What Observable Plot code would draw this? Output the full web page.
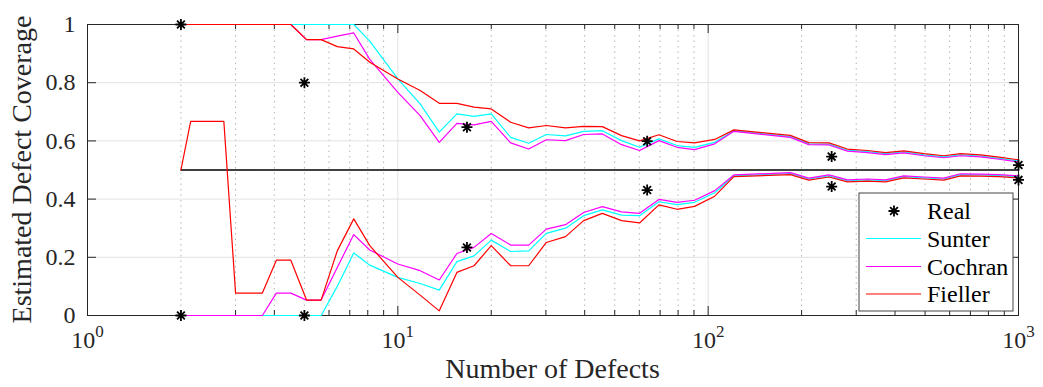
<!DOCTYPE html>
<html><head><meta charset="utf-8">
<script src="https://cdn.jsdelivr.net/npm/d3@7"></script>
<script src="https://cdn.jsdelivr.net/npm/@observablehq/plot@0.6"></script>
<style>body{margin:0;background:#fff}#chart{width:1043px;height:387px}
#chart svg text{font-family:'Liberation Serif','Times New Roman',serif !important}</style>
</head><body><div id="chart"></div>
<script>
// ---- data ----
const nDefects = [2, 2.15, 2.75, 3.0, 3.66, 4.06, 4.52, 5.08, 5.66, 6.38, 7.21, 8.12, 10, 11.8, 13.6, 15.5, 17.6, 20, 23.1, 26.4, 30.1, 34.7, 39.7, 45.6, 52.6, 60.1, 69.4, 79.4, 90.4, 105, 121, 184, 211, 245, 281, 326, 373, 427, 496, 575, 650, 755, 865, 1000];

const sunterUpper = [1,1,1,1,1,1,1,1,1,1,1, 0.943, 0.813, 0.727, 0.630, 0.693, 0.684, 0.693, 0.612, 0.592, 0.622, 0.617, 0.633, 0.635, 0.601, 0.578, 0.607, 0.584, 0.578, 0.595, 0.635, 0.615, 0.590, 0.589, 0.568, 0.563, 0.556, 0.562, 0.552, 0.545, 0.552, 0.548, 0.540, 0.531];
const cochranUpper = [1,1,1,1,1,1,1, 0.948, 0.948, 0.960, 0.971, 0.880, 0.767, 0.687, 0.595, 0.660, 0.655, 0.667, 0.593, 0.572, 0.604, 0.601, 0.622, 0.624, 0.587, 0.567, 0.601, 0.578, 0.570, 0.590, 0.633, 0.612, 0.587, 0.586, 0.565, 0.560, 0.553, 0.559, 0.549, 0.542, 0.549, 0.545, 0.537, 0.528];
const fiellerUpper = [1,1,1,1,1,1,1, 0.948, 0.948, 0.924, 0.916, 0.870, 0.813, 0.773, 0.729, 0.729, 0.716, 0.710, 0.664, 0.645, 0.653, 0.645, 0.650, 0.649, 0.618, 0.600, 0.621, 0.598, 0.593, 0.605, 0.638, 0.619, 0.594, 0.593, 0.572, 0.567, 0.560, 0.566, 0.556, 0.549, 0.556, 0.552, 0.544, 0.535];

const sunterLower = [0,0,0,0,0,0,0,0,0, 0.100, 0.215, 0.173, 0.131, 0.110, 0.087, 0.185, 0.205, 0.259, 0.220, 0.222, 0.282, 0.300, 0.343, 0.363, 0.345, 0.343, 0.391, 0.381, 0.389, 0.422, 0.480, 0.488, 0.469, 0.480, 0.463, 0.466, 0.463, 0.477, 0.473, 0.469, 0.484, 0.483, 0.481, 0.477];
const cochranLower = [0,0,0,0,0, 0.077, 0.077, 0.053, 0.053, 0.165, 0.278, 0.225, 0.177, 0.154, 0.122, 0.213, 0.234, 0.282, 0.242, 0.242, 0.297, 0.312, 0.354, 0.374, 0.356, 0.351, 0.399, 0.389, 0.396, 0.429, 0.483, 0.491, 0.472, 0.483, 0.466, 0.469, 0.466, 0.480, 0.476, 0.472, 0.487, 0.486, 0.484, 0.480];
const fiellerLower = [0.5, 0.667, 0.667, 0.077, 0.077, 0.190, 0.190, 0.053, 0.053, 0.222, 0.332, 0.240, 0.131, 0.070, 0.016, 0.148, 0.171, 0.240, 0.171, 0.171, 0.251, 0.271, 0.326, 0.351, 0.326, 0.318, 0.380, 0.365, 0.375, 0.410, 0.477, 0.484, 0.465, 0.476, 0.459, 0.462, 0.459, 0.473, 0.469, 0.465, 0.480, 0.479, 0.477, 0.473];

const realN = [2, 2, 5, 5, 16.7, 16.7, 63.6, 63.6, 250, 250, 1000, 1000];
const realCoverage = [1, 0, 0.8, 0, 0.647, 0.234, 0.599, 0.431, 0.546, 0.443, 0.517, 0.466];

const refN = [2, 1000];
const refCoverage = [0.5, 0.5];

const xMajorTicks = [1, 10, 100, 1000];
const xMinorTicks = [2,3,4,5,6,7,8,9,20,30,40,50,60,70,80,90,200,300,400,500,600,700,800,900];
const yTicks = [0, 0.2, 0.4, 0.6, 0.8, 1];
const yLabels = ["0", "0.2", "0.4", "0.6", "0.8", "1"];

const seriesNames = ["Real", "Sunter", "Cochran", "Fieller"];
const seriesColors = ["#000000", "#00ffff", "#ff00ff", "#ff0000"];
const xLabel = "Number of Defects";
const yLabel = "Estimated Defect Coverage";

// ---- layout ----
const FONT = "'Liberation Serif','Times New Roman',serif";
const W = 1043, H = 387, mL = 87, mR = 25, mT = 24, mB = 72;
const fW = W - mL - mR, fH = H - mT - mB;
const ink = "#262626";

const rows = ys => nDefects.map((n, i) => ({n, v: ys[i]}));
const real = realN.map((n, i) => ({n, v: realCoverage[i]}));
const ref = refN.map((n, i) => ({n, v: refCoverage[i]}));

const asterisk = {
  draw(ctx, size) {
    const r = Math.sqrt(size / Math.PI);
    for (let k = 0; k < 4; k++) {
      const a = k * Math.PI / 4, c = Math.cos(a) * r, s = Math.sin(a) * r;
      ctx.moveTo(c, s); ctx.lineTo(-c, -s);
    }
  }
};

const lineOpts = (color) => ({x: "n", y: "v", stroke: color, strokeWidth: 1.2});

const chart = Plot.plot({
  width: W, height: H,
  marginLeft: mL, marginRight: mR, marginTop: mT, marginBottom: mB,
  style: {fontFamily: FONT, fontSize: "24px", background: "#fff", color: ink, overflow: "visible"},
  x: {type: "log", domain: [1, 1000]},
  y: {domain: [0, 1]},
  marks: [
    Plot.ruleX(xMinorTicks, {stroke: "#b5b5b5", strokeDasharray: "1.5,4", strokeWidth: 1}),
    Plot.ruleX([10, 100], {stroke: "#e2e2e2", strokeWidth: 1}),
    Plot.ruleY([0.2, 0.4, 0.6, 0.8], {stroke: "#e2e2e2", strokeWidth: 1}),
    Plot.frame({stroke: ink, strokeWidth: 1}),
    // inward ticks (bottom/top, left/right)
    Plot.ruleX(xMajorTicks.slice(1, 3), {insetTop: fH - 9, stroke: ink}),
    Plot.ruleX(xMajorTicks.slice(1, 3), {insetBottom: fH - 9, stroke: ink}),
    Plot.ruleX(xMinorTicks, {insetTop: fH - 5, stroke: ink}),
    Plot.ruleX(xMinorTicks, {insetBottom: fH - 5, stroke: ink}),
    Plot.ruleY(yTicks.slice(1, 5), {insetRight: fW - 9, stroke: ink}),
    Plot.ruleY(yTicks.slice(1, 5), {insetLeft: fW - 9, stroke: ink}),
    // data
    Plot.line(ref, {x: "n", y: "v", stroke: "#000", strokeWidth: 1.3}),
    Plot.line(rows(sunterUpper), lineOpts(seriesColors[1])),
    Plot.line(rows(sunterLower), lineOpts(seriesColors[1])),
    Plot.line(rows(cochranUpper), lineOpts(seriesColors[2])),
    Plot.line(rows(cochranLower), lineOpts(seriesColors[2])),
    Plot.line(rows(fiellerUpper), lineOpts(seriesColors[3])),
    Plot.line(rows(fiellerLower), lineOpts(seriesColors[3])),
    Plot.dot(real, {x: "n", y: "v", symbol: asterisk, r: 5.5, stroke: "#000", strokeWidth: 1.8, fill: "none"}),
    // axes
    Plot.axisX({ticks: xMajorTicks, tickSize: 0, tickPadding: 15, label: null, fontSize: 24,
      tickFormat: d => String(Math.round(Math.log10(d)))}),
    Plot.axisY({ticks: yTicks, tickSize: 0, tickPadding: 12, label: null, fontSize: 24,
      tickFormat: d => yLabels[yTicks.indexOf(d)]})
  ]
});

const svg = d3.select(chart);
// superscript exponents on the x tick labels: 10^k
svg.selectAll('[aria-label="x-axis tick label"] text').each(function () {
  const e = this.textContent;
  const t = d3.select(this);
  t.text(null);
  t.append("tspan").text("10");
  t.append("tspan").attr("dy", "-0.6em").attr("font-size", "17px").text(e);
});

svg.append("text").attr("x", mL + fW / 2).attr("y", 378).attr("text-anchor", "middle")
  .attr("font-size", 28).attr("fill", ink).text(xLabel);
svg.append("text").attr("transform", `translate(31,${mT + fH / 2}) rotate(-90)`)
  .attr("text-anchor", "middle").attr("font-size", 28).attr("fill", ink).text(yLabel);

// legend (inside the axes, lower right)
const lg = svg.append("g").attr("transform", "translate(859,193)");
lg.append("rect").attr("width", 154).attr("height", 118).attr("fill", "#fff").attr("stroke", "#444").attr("stroke-width", 1);
const rowY = [18, 45.5, 73.5, 101];
seriesNames.forEach((name, i) => {
  if (i === 0) {
    const p = d3.path(); asterisk.draw(p, Math.PI * 5.5 * 5.5);
    lg.append("path").attr("d", p.toString()).attr("transform", `translate(35,${rowY[i]})`)
      .attr("stroke", "#000").attr("stroke-width", 1.8).attr("fill", "none");
  } else {
    lg.append("line").attr("x1", 7).attr("x2", 62).attr("y1", rowY[i]).attr("y2", rowY[i])
      .attr("stroke", seriesColors[i]).attr("stroke-width", 1.2);
  }
  lg.append("text").attr("x", 68).attr("y", rowY[i]).attr("dy", "0.34em")
    .attr("text-anchor", "start").attr("font-size", 24).attr("fill", "#000").text(name);
});

svg.selectAll("text").attr("font-family", FONT);
document.getElementById("chart").appendChild(chart);
</script>
</body></html>
